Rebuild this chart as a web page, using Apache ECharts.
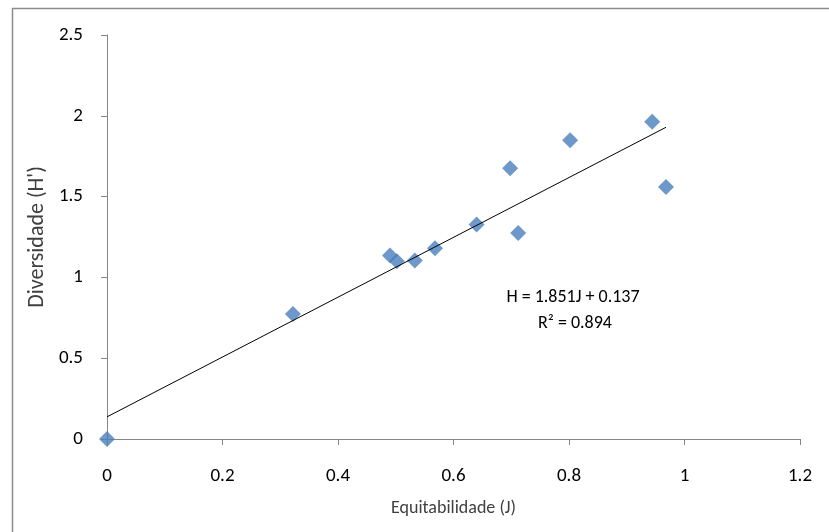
<!DOCTYPE html>
<html>
<head>
<meta charset="utf-8">
<script src="https://cdn.jsdelivr.net/npm/echarts@6/dist/echarts.min.js"></script>
<style>
html,body{margin:0;padding:0;background:#fff;}
#chart{width:829px;height:532px;}
</style>
</head>
<body>
<div id="chart"></div>
<script>
// Data
const equitabilidade = [0, 0.322, 0.490, 0.502, 0.533, 0.568, 0.640, 0.698, 0.712, 0.802, 0.944, 0.968];
const diversidade   = [0, 0.774, 1.135, 1.100, 1.105, 1.180, 1.327, 1.675, 1.275, 1.848, 1.963, 1.560];
// Trendline endpoints (as drawn in the reference)
const trendX = [0, 0.968];
const trendY = [0.137, 1.929];
const xTicks = [0, 0.2, 0.4, 0.6, 0.8, 1, 1.2];
const yTicks = [0, 0.5, 1, 1.5, 2, 2.5];
const equationText = 'H = 1.851J + 0.137';
const r2Text = 'R² = 0.894';

const font = "Carlito, 'Liberation Sans Narrow', 'Liberation Sans', sans-serif";

const chart = echarts.init(document.getElementById('chart'), null, {renderer: 'canvas'});
const option = {
  backgroundColor: '#ffffff',
  animation: false,
  grid: {left: 107, right: 29, top: 35, bottom: 93, containLabel: false},
  xAxis: {
    type: 'value', min: xTicks[0], max: xTicks[xTicks.length - 1], interval: 0.2,
    name: 'Equitabilidade (J)', nameLocation: 'middle', nameGap: 60,
    nameTextStyle: {fontFamily: font, fontSize: 18, color: '#404040'},
    axisLine: {show: true, lineStyle: {color: '#868686', width: 1}},
    axisTick: {show: true, inside: false, length: 6, lineStyle: {color: '#868686'}},
    axisLabel: {fontFamily: font, fontSize: 19, color: '#000', margin: 28},
    splitLine: {show: false}
  },
  yAxis: {
    type: 'value', min: yTicks[0], max: yTicks[yTicks.length - 1], interval: 0.5,
    name: 'Diversidade (H\')', nameLocation: 'middle', nameGap: 56, nameRotate: 90,
    nameTextStyle: {fontFamily: font, fontSize: 22, color: '#404040'},
    axisLine: {show: true, lineStyle: {color: '#868686', width: 1}},
    axisTick: {show: true, inside: false, length: 6, lineStyle: {color: '#868686'}},
    axisLabel: {fontFamily: font, fontSize: 19, color: '#000', margin: 24},
    splitLine: {show: false}
  },
  series: [
    {
      type: 'line',
      data: trendX.map((x, i) => [x, trendY[i]]),
      showSymbol: false, symbol: 'none',
      lineStyle: {color: '#000', width: 1},
      z: 3
    },
    {
      type: 'scatter',
      data: equitabilidade.map((x, i) => [x, diversidade[i]]),
      symbol: 'diamond', symbolSize: 16,
      itemStyle: {color: '#4A7EBB'},
      z: 2
    }
  ],
  graphic: [
    {type: 'rect', shape: {x: 12.5, y: 8.5, width: 900, height: 700},
     style: {fill: 'none', stroke: '#8c8c8c', lineWidth: 1.5}, silent: true, z: -1},
    {type: 'text', x: 573, y: 297, style: {text: equationText, font: '18px ' + font, fill: '#000', textAlign: 'center', textVerticalAlign: 'middle'}},
    {type: 'text', x: 575, y: 323, style: {text: r2Text, font: '18px ' + font, fill: '#000', textAlign: 'center', textVerticalAlign: 'middle'}}
  ]
};
chart.setOption(option);
</script>
</body>
</html>
